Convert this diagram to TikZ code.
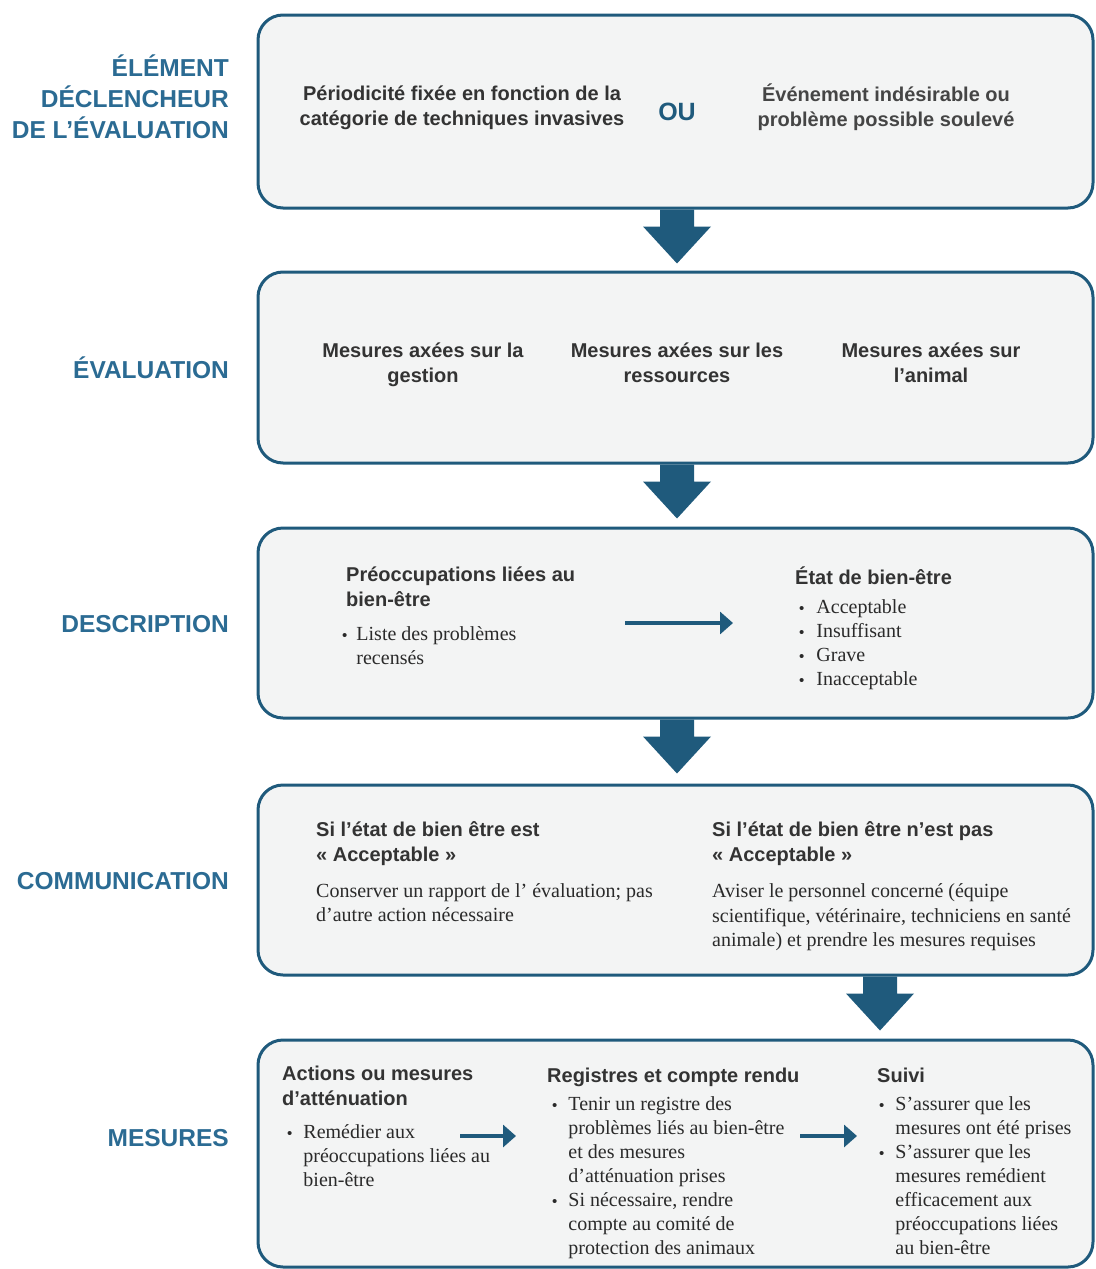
\documentclass[tikz,border=0pt]{standalone}
\usepackage{fontspec}
\setmainfont{Liberation Serif}
\setsansfont{Liberation Sans}
\usetikzlibrary{arrows.meta,calc}
\definecolor{accent}{HTML}{1F5A7C}
\definecolor{labelcol}{HTML}{2B6B93}
\definecolor{textcol}{HTML}{333333}
\definecolor{serifcol}{HTML}{2A2A2A}
\definecolor{textlight}{HTML}{454545}
\definecolor{boxfill}{HTML}{F3F4F4}
\newcommand\bul{{\sffamily\fontsize{15}{24}\selectfont\textbullet}}
\newcommand\blockarrow[1]{\fill[accent] (#1) ++(-17,0) -- ++(34,0) -- ++(0,17) -- ++(17,0) -- ++(-34,37) -- ++(-34,-37) -- ++(17,0) -- cycle;}
\tikzset{
  box/.style={draw=accent, line width=3pt, fill=boxfill, rounded corners=25pt, minimum width=835pt, inner sep=0pt},
  lbl/.style={font=\sffamily\bfseries\fontsize{24.5}{31}\selectfont, text=labelcol, align=right, anchor=east, inner sep=0pt},
  hdr/.style={font=\sffamily\bfseries\fontsize{20}{25}\selectfont, text=textcol, inner sep=0pt,
    execute at begin node=\strut, execute at end node=\strut},
  hdrl/.style={hdr, align=left, anchor=west},
  hdrc/.style={hdr, align=center, anchor=center},
  body/.style={font=\rmfamily\fontsize{20}{24.5}\selectfont, text=serifcol, align=left, anchor=west, inner sep=0pt,
    execute at begin node=\strut, execute at end node=\strut},
  blist/.style={font=\rmfamily\fontsize{20}{24}\selectfont, text=serifcol, anchor=west, inner sep=0pt},
  thinarr/.style={draw=accent, line width=3.5pt, -{Triangle[length=13pt,width=22pt]}},
}
\begin{document}
\begin{tikzpicture}[x=1pt,y=-1pt]
\useasboundingbox (0,0) rectangle (1095,1269);

% boxes
\node[box, minimum height=193pt] (b1) at (675.5,111.5) {};
\node[box, minimum height=191pt] (b2) at (675.5,367.5) {};
\node[box, minimum height=190pt] (b3) at (675.5,623) {};
\node[box, minimum height=190pt] (b4) at (675.5,880) {};
\node[box, minimum height=227pt] (b5) at (675.5,1153.5) {};

% block arrows
\path (b1.south) ++(1.5,0) coordinate (a1);
\path (b2.south) ++(1.5,0) coordinate (a2);
\path (b3.south) ++(1.5,0) coordinate (a3);
\path (b4.south) ++(204.5,0) coordinate (a4);
\blockarrow{a1}
\blockarrow{a2}
\blockarrow{a3}
\blockarrow{a4}

% left labels
\node[lbl] (l1) at (229,97) {ÉLÉMENT\\DÉCLENCHEUR\\DE L’ÉVALUATION};
\node[lbl] (l2) at (229,368) {ÉVALUATION};
\node[lbl] (l3) at (229,624) {DESCRIPTION};
\node[lbl] (l4) at (229,881) {COMMUNICATION};
\node[lbl] (l5) at (229,1138) {MESURES};

% box 1
\node[hdrc] (t11) at (462,109) {Périodicité fixée en fonction de la\\catégorie de techniques invasives};
\node[font=\sffamily\bfseries\fontsize{25}{30}\selectfont, text=accent, inner sep=0pt] (ou) at (677,112) {OU};
\node[hdrc, text=textlight] (t12) at (886,109) {Événement indésirable ou\\problème possible soulevé};

% box 2
\node[hdrc] (t21) at (423,366) {Mesures axées sur la\\gestion};
\node[hdrc] (t22) at (677,366) {Mesures axées sur les\\ressources};
\node[hdrc] (t23) at (931,366) {Mesures axées sur\\l’animal};

% box 3
\node[hdrl] (t31) at (346,590) {Préoccupations liées au\\bien-être};
\node[blist] (t32) at (342,648) {\begin{tabular}{@{}l@{\hspace{9pt}}l@{}}\bul & Liste des problèmes\\ & recensés\end{tabular}};
\node[hdrl] (t33) at (795,579) {État de bien-être};
\node[blist] (t34) at (799,645) {\begin{tabular}{@{}l@{\hspace{12pt}}l@{}}\bul & Acceptable\\ \bul & Insuffisant\\ \bul & Grave\\ \bul & Inacceptable\end{tabular}};
\coordinate (d1) at (625,623);
\coordinate (d2) at (733,623);
\draw[thinarr] (d1) -- (d2);

% box 4
\node[hdrl] (t41) at (316,845) {Si l’état de bien être est\\« Acceptable »};
\node[body] (t42) at (316,906) {Conserver un rapport de l’ évaluation; pas\\d’autre action nécessaire};
\node[hdrl] (t43) at (712,845) {Si l’état de bien être n’est pas\\« Acceptable »};
\node[body] (t44) at (712,919) {Aviser le personnel concerné (équipe\\scientifique, vétérinaire, techniciens en santé\\animale) et prendre les mesures requises};

% box 5
\node[hdrl] (t51) at (282,1089) {Actions ou mesures\\d’atténuation};
\node[blist] (t52) at (287,1158) {\begin{tabular}{@{}l@{\hspace{11pt}}l@{}}\bul & Remédier aux\\ & préoccupations liées au\\ & bien-être\end{tabular}};
\node[hdrl] (t53) at (547,1077) {Registres et compte rendu};
\node[blist] (t54) at (552,1178) {\begin{tabular}{@{}l@{\hspace{11pt}}l@{}}\bul & Tenir un registre des\\ & problèmes liés au bien-être\\ & et des mesures\\ & d’atténuation prises\\ \bul & Si nécessaire, rendre\\ & compte au comité de\\ & protection des animaux\end{tabular}};
\node[hdrl] (t55) at (877,1077) {Suivi};
\node[blist] (t56) at (879,1178) {\begin{tabular}{@{}l@{\hspace{11pt}}l@{}}\bul & S’assurer que les\\ & mesures ont été prises\\ \bul & S’assurer que les\\ & mesures remédient\\ & efficacement aux\\ & préoccupations liées\\ & au bien-être\end{tabular}};
\coordinate (m1) at (460,1136);
\coordinate (m2) at (516,1136);
\coordinate (m3) at (800,1136);
\coordinate (m4) at (857,1136);
\draw[thinarr] (m1) -- (m2);
\draw[thinarr] (m3) -- (m4);
\end{tikzpicture}
\end{document}
